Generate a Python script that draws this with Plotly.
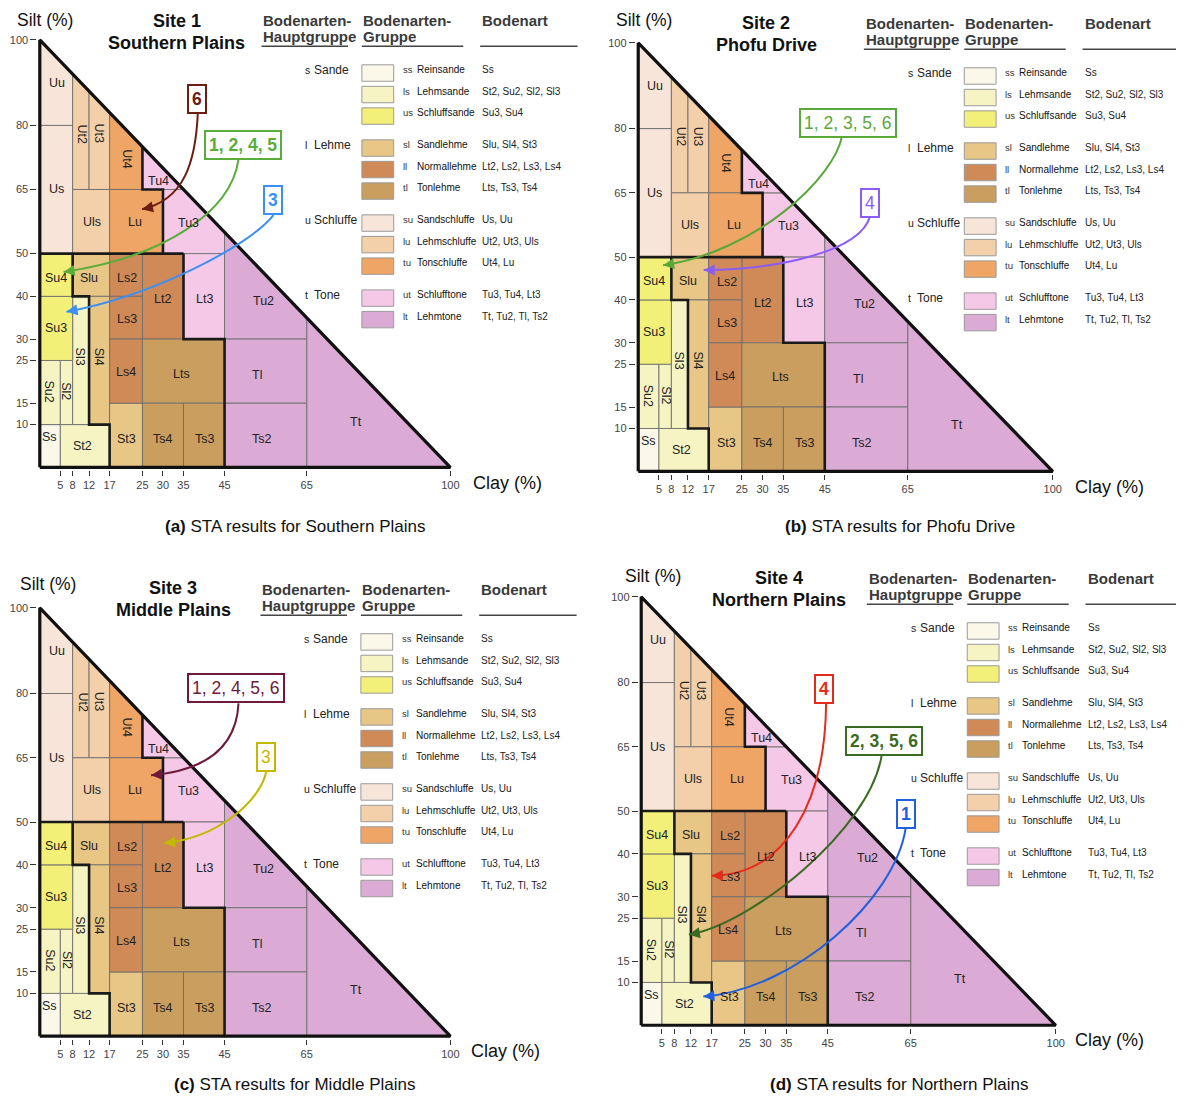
import plotly.graph_objects as go

W, H = 1176, 1090      # page adds a body margin; figure placed to match
OFF_X, OFF_Y = 8, 9
FONT = "Liberation Sans, Arial, Helvetica, sans-serif"

# ------------------------------------------------------------------ data
CLAY_TICKS = [5, 8, 12, 17, 25, 30, 35, 45, 65, 100]
SILT_TICKS = [10, 15, 25, 30, 40, 50, 65, 80, 100]

GROUP_COLORS = {
    "ss": "#fbf8ea", "ls": "#f7f4c4", "us": "#f3f07a",
    "sl": "#e8c686", "ll": "#cf8a57", "tl": "#c99e5e",
    "su": "#f8e5da", "lu": "#f4d0aa", "tu": "#eea566",
    "ut": "#f6c8e8", "lt": "#dbabd5",
}

CLASS_GROUP = {
    "Ss": "ss",
    "St2": "ls", "Su2": "ls", "Sl2": "ls", "Sl3": "ls",
    "Su3": "us", "Su4": "us",
    "Slu": "sl", "Sl4": "sl", "St3": "sl",
    "Lt2": "ll", "Ls2": "ll", "Ls3": "ll", "Ls4": "ll",
    "Lts": "tl", "Ts3": "tl", "Ts4": "tl",
    "Us": "su", "Uu": "su",
    "Ut2": "lu", "Ut3": "lu", "Uls": "lu",
    "Ut4": "tu", "Lu": "tu",
    "Tu3": "ut", "Tu4": "ut", "Lt3": "ut",
    "Tt": "lt", "Tu2": "lt", "Tl": "lt", "Ts2": "lt",
}

# polygon corners: (clay %, silt %)
CLASS_CLAY = {
    "Ss": [0, 5, 5, 0], "St2": [5, 17, 17, 5], "Su2": [0, 5, 5, 0], "Sl2": [5, 8, 8, 5],
    "Sl3": [8, 12, 12, 8], "Su3": [0, 8, 8, 0], "Su4": [0, 8, 8, 0], "Slu": [8, 17, 17, 8],
    "Sl4": [12, 17, 17, 12], "St3": [17, 25, 25, 17], "Ls4": [17, 25, 25, 17],
    "Ls3": [17, 25, 25, 17], "Ls2": [17, 25, 25, 17], "Lt2": [25, 35, 35, 25],
    "Lts": [25, 45, 45, 25], "Ts4": [25, 35, 35, 25], "Ts3": [35, 45, 45, 35],
    "Lt3": [35, 45, 45, 35], "Tu3": [30, 45, 45, 35, 30], "Tu4": [25, 35, 25],
    "Tu2": [45, 65, 65, 45], "Tl": [45, 65, 65, 45], "Ts2": [45, 65, 65, 45],
    "Tt": [65, 100, 65], "Uu": [0, 8, 8, 0], "Us": [0, 8, 8, 0], "Ut2": [8, 12, 12, 8],
    "Ut3": [12, 17, 17, 12], "Ut4": [17, 25, 25, 17], "Uls": [8, 17, 17, 8],
    "Lu": [17, 30, 30, 17],
}
CLASS_SILT = {
    "Ss": [0, 0, 10, 10], "St2": [0, 0, 10, 10], "Su2": [10, 10, 25, 25], "Sl2": [10, 10, 25, 25],
    "Sl3": [10, 10, 40, 40], "Su3": [25, 25, 40, 40], "Su4": [40, 40, 50, 50], "Slu": [40, 40, 50, 50],
    "Sl4": [10, 10, 40, 40], "St3": [0, 0, 15, 15], "Ls4": [15, 15, 30, 30],
    "Ls3": [30, 30, 40, 40], "Ls2": [40, 40, 50, 50], "Lt2": [30, 30, 50, 50],
    "Lts": [15, 15, 30, 30], "Ts4": [0, 0, 15, 15], "Ts3": [0, 0, 15, 15],
    "Lt3": [30, 30, 50, 50], "Tu3": [50, 50, 55, 65, 65], "Tu4": [65, 65, 75],
    "Tu2": [30, 30, 35, 55], "Tl": [15, 15, 30, 30], "Ts2": [0, 0, 15, 15],
    "Tt": [0, 0, 35], "Uu": [80, 80, 92, 100], "Us": [50, 50, 80, 80], "Ut2": [65, 65, 88, 92],
    "Ut3": [65, 65, 83, 88], "Ut4": [65, 65, 75, 83], "Uls": [50, 50, 65, 65],
    "Lu": [50, 50, 65, 65],
}

# label anchor (clay, silt, rotation)
CLASS_LABEL = {
    "Uu": (4.1, 90, 0), "Us": (4.0, 65, 0), "Ut2": (10.4, 78, 90), "Ut3": (14.5, 78, 90),
    "Ut4": (21.3, 72, 90), "Tu4": (29.0, 67, 0), "Uls": (12.6, 57.4, 0), "Lu": (23.2, 57.4, 0),
    "Tu3": (36.3, 57.2, 0), "Su4": (3.9, 44.4, 0), "Slu": (12.1, 44.4, 0), "Ls2": (21.3, 44.2, 0),
    "Lt2": (30.0, 39.3, 0), "Lt3": (40.2, 39.3, 0), "Tu2": (54.5, 39.0, 0), "Ls3": (21.3, 34.6, 0),
    "Su3": (3.9, 32.6, 0), "Sl3": (9.9, 25.8, 90), "Sl4": (14.5, 25.8, 90), "Ls4": (21.0, 22.3, 0),
    "Lts": (34.4, 21.9, 0), "Tl": (53.0, 21.6, 0), "Su2": (2.3, 17.7, 90), "Sl2": (6.5, 17.7, 90),
    "Tt": (77.0, 10.7, 0), "Ss": (2.4, 7.0, 0), "St2": (10.4, 4.9, 0), "St3": (21.2, 6.7, 0),
    "Ts4": (30.0, 6.7, 0), "Ts3": (40.2, 6.7, 0), "Ts2": (54.0, 6.7, 0),
}

# thick group boundaries (clay list, silt list)
FRAME_CLAY = [0, 100, 0, 0]
FRAME_SILT = [0, 0, 100, 0]
BOUNDARY_CLAY = [
    [0, 35],
    [30, 30, 25, 25],
    [35, 35, 45, 45],
    [8, 8, 12, 12, 17, 17],
]
BOUNDARY_SILT = [
    [50, 50],
    [50, 65, 65, 75],
    [50, 30, 30, 0],
    [50, 40, 40, 10, 10, 0],
]

LEGEND_HEADERS = [("Bodenarten-", "Hauptgruppe"), ("Bodenarten-", "Gruppe"), ("Bodenart", "")]
LEGEND_GROUPS = [
    ("s", "Sande", [("ss", "Reinsande", "Ss"),
                    ("ls", "Lehmsande", "St2, Su2, Sl2, Sl3"),
                    ("us", "Schluffsande", "Su3, Su4")]),
    ("l", "Lehme", [("sl", "Sandlehme", "Slu, Sl4, St3"),
                    ("ll", "Normallehme", "Lt2, Ls2, Ls3, Ls4"),
                    ("tl", "Tonlehme", "Lts, Ts3, Ts4")]),
    ("u", "Schluffe", [("su", "Sandschluffe", "Us, Uu"),
                       ("lu", "Lehmschluffe", "Ut2, Ut3, Uls"),
                       ("tu", "Tonschluffe", "Ut4, Lu")]),
    ("t", "Tone", [("ut", "Schlufftone", "Tu3, Tu4, Lt3"),
                   ("lt", "Lehmtone", "Tt, Tu2, Tl, Ts2")]),
]

# STA result callouts (positions in clay %, silt %)
ARROWS_A = [
    dict(text="6", color="#6b1d0f", bold=True, box=(38.3, 86.2), start=(38.5, 83.2),
         c1=(38.0, 71.3), c2=(35.1, 62.5), end=(24.9, 60.4)),
    dict(text="1, 2, 4, 5", color="#5aad3a", bold=True, box=(49.6, 75.5), start=(48.4, 72.0),
         c1=(46.5, 59.7), c2=(30.3, 49.2), end=(5.8, 45.7)),
    dict(text="3", color="#3d8ff5", bold=True, box=(56.9, 62.5), start=(56.9, 59.0),
         c1=(50.8, 51.5), c2=(26.6, 39.9), end=(6.5, 36.4)),
]
ARROWS_B = [
    dict(text="1, 2, 3, 5, 6", color="#5aa83a", bold=False, box=(50.6, 81.2), start=(49.2, 78.4),
         c1=(47.5, 68.6), c2=(28.3, 51.2), end=(6.0, 48.1)),
    dict(text="4", color="#8b5cf6", bold=False, box=(55.9, 62.6), start=(55.9, 59.5),
         c1=(53.5, 51.2), c2=(33.1, 47.0), end=(15.8, 47.0)),
]
ARROWS_C = [
    dict(text="1, 2, 4, 5, 6", color="#6d1a3c", bold=False, box=(47.9, 81.2), start=(48.4, 77.7),
         c1=(47.9, 67.9), c2=(41.2, 62.1), end=(27.1, 60.9)),
    dict(text="3", color="#c2b900", bold=False, box=(55.2, 65.1), start=(55.2, 61.9),
         c1=(53.8, 55.1), c2=(43.6, 46.3), end=(30.3, 45.1)),
]
ARROWS_D = [
    dict(text="4", color="#e52b1a", bold=True, box=(44.1, 78.4), start=(44.6, 75.1),
         c1=(44.4, 52.1), c2=(34.8, 35.1), end=(17.0, 34.9)),
    dict(text="2, 3, 5, 6", color="#3b6b22", bold=True, box=(58.5, 66.3), start=(58.0, 63.0),
         c1=(55.2, 45.6), c2=(26.4, 23.5), end=(11.5, 21.2)),
    dict(text="1", color="#1f5fe0", bold=True, box=(63.8, 49.3), start=(63.8, 46.0),
         c1=(61.2, 29.3), c2=(37.2, 8.4), end=(15.0, 6.7)),
]

# panel layout (pixel placement of the plot area & decorations)
PANELS = [
    dict(letter="a", site="Site 1", place="Southern Plains", X0=40, Y0=466, sx=4.13, sy=4.29,
         leg=(0, 0), title=(178, 18), silt=(45, 17), clay=(510, 482), cap=(297, 525), arrows=ARROWS_A),
    dict(letter="b", site="Site 2", place="Phofu Drive", X0=642, Y0=470, sx=4.17, sy=4.30,
         leg=(606, 3), title=(771, 20), silt=(648, 17), clay=(1116, 486), cap=(905, 525), arrows=ARROWS_B),
    dict(letter="c", site="Site 3", place="Middle Plains", X0=40, Y0=1037, sx=4.13, sy=4.30,
         leg=(-1, 571), title=(174, 587), silt=(48, 583), clay=(508, 1052), cap=(297, 1085), arrows=ARROWS_C),
    dict(letter="d", site="Site 4", place="Northern Plains", X0=645, Y0=1026, sx=4.17, sy=4.30,
         leg=(609, 560), title=(784, 577), silt=(657, 575), clay=(1116, 1041), cap=(905, 1085), arrows=ARROWS_D),
]

# ------------------------------------------------------------------ figure
fig = go.Figure()
layout = dict(width=W, height=H, margin=dict(l=0, r=0, t=0, b=0),
              paper_bgcolor="white", plot_bgcolor="rgba(0,0,0,0)",
              font=dict(family=FONT, color="#111"), showlegend=False)
annotations = []
shapes = []
PAD = 0.6


def px(x):
    return (x - OFF_X) / W


def py(y):
    return 1 - (y - OFF_Y) / H


def ptext(x, y, text, size, color="#111", xanchor="center"):
    annotations.append(dict(x=px(x), y=py(y), xref="paper", yref="paper", text=text,
                            xanchor=xanchor, yanchor="middle", showarrow=False,
                            font=dict(size=size, color=color, family=FONT)))


for i, P in enumerate(PANELS):
    n = "" if i == 0 else str(i + 1)
    xr, yr = "x" + n, "y" + n
    xd = [px(P["X0"] - PAD * P["sx"]), px(P["X0"] + (100 + PAD) * P["sx"])]
    yd = [py(P["Y0"] + PAD * P["sy"]), py(P["Y0"] - (100 + PAD) * P["sy"])]
    layout["xaxis" + n] = dict(domain=xd, range=[-PAD, 100 + PAD], anchor=yr,
                               tickvals=CLAY_TICKS, ticktext=[str(v) for v in CLAY_TICKS],
                               ticks="outside", ticklen=5, tickcolor="#333", tickwidth=1,
                               tickfont=dict(size=11, color="#444", family=FONT),
                               showgrid=False, zeroline=False, showline=False, fixedrange=True)
    layout["yaxis" + n] = dict(domain=yd, range=[-PAD, 100 + PAD], anchor=xr,
                               tickvals=SILT_TICKS, ticktext=[str(v) for v in SILT_TICKS],
                               ticks="outside", ticklen=6, tickcolor="#333", tickwidth=1,
                               tickfont=dict(size=11, color="#444", family=FONT),
                               showgrid=False, zeroline=False, showline=False, fixedrange=True)

    # class polygons
    for cls, grp in CLASS_GROUP.items():
        cx = CLASS_CLAY[cls] + [CLASS_CLAY[cls][0]]
        cy = CLASS_SILT[cls] + [CLASS_SILT[cls][0]]
        fig.add_trace(go.Scatter(x=cx, y=cy, xaxis=xr, yaxis=yr, mode="lines", fill="toself",
                                 fillcolor=GROUP_COLORS[grp], line=dict(color="#6e6e6e", width=0.9),
                                 hoverinfo="skip"))
    # group boundaries
    for bx, by in zip(BOUNDARY_CLAY, BOUNDARY_SILT):
        fig.add_trace(go.Scatter(x=bx, y=by, xaxis=xr, yaxis=yr, mode="lines",
                                 line=dict(color="#1a1a1a", width=2.6), hoverinfo="skip"))
    fig.add_trace(go.Scatter(x=FRAME_CLAY, y=FRAME_SILT, xaxis=xr, yaxis=yr, mode="lines",
                             line=dict(color="#111", width=3.2), hoverinfo="skip"))

    # class labels
    for cls, (lx, ly, ang) in CLASS_LABEL.items():
        annotations.append(dict(x=lx, y=ly, xref=xr, yref=yr, text=cls, showarrow=False,
                                xanchor="center", yanchor="middle",
                                textangle=ang, font=dict(size=12.5, color="#222", family=FONT)))

    # callout arrows
    for A in P["arrows"]:
        (x0, y0), (a1, b1), (a2, b2), (x1, y1) = A["start"], A["c1"], A["c2"], A["end"]
        shapes.append(dict(type="path", xref=xr, yref=yr,
                           path=f"M {x0},{y0} C {a1},{b1} {a2},{b2} {x1},{y1}",
                           line=dict(color=A["color"], width=2)))
        dx, dy = (a2 - x1) * P["sx"], (b2 - y1) * P["sy"]
        L = (dx * dx + dy * dy) ** 0.5
        annotations.append(dict(x=x1, y=y1, xref=xr, yref=yr, axref=xr, ayref=yr,
                                ax=x1 + dx / L * 10 / P["sx"], ay=y1 + dy / L * 10 / P["sy"],
                                text="", showarrow=True, arrowhead=2, arrowsize=1.1,
                                arrowwidth=2, arrowcolor=A["color"], standoff=0))
        t = f"<b>{A['text']}</b>" if A["bold"] else A["text"]
        annotations.append(dict(x=A["box"][0], y=A["box"][1], xref=xr, yref=yr, text=t,
                                xanchor="center", yanchor="middle",
                                showarrow=False, bgcolor="white", bordercolor=A["color"],
                                borderwidth=2, borderpad=3,
                                font=dict(size=17.5, color=A["color"], family=FONT)))

    # titles / axis names / caption
    tx, ty = P["title"]
    ptext(tx, ty, f"<b>{P['site']}</b>", 18)
    ptext(tx, ty + 22, f"<b>{P['place']}</b>", 18)
    ptext(P["silt"][0], P["silt"][1], "Silt (%)", 17.5)
    ptext(P["clay"][0], P["clay"][1], "Clay (%)", 18)
    ptext(P["cap"][0], P["cap"][1], f"<b>({P['letter']})</b> STA results for {P['place']}", 17)

    # legend table
    ox, oy = P["leg"]
    hx = [263, 363, 483]
    ul = [(263, 350), (364, 466), (483, 581)]
    for (h1, h2), hxx, (u0, u1) in zip(LEGEND_HEADERS, hx, ul):
        ptext(hxx + ox, 18 + oy, f"<b>{h1}</b>", 15, "#3a3a3a", "left")
        if h2:
            ptext(hxx + ox, 34 + oy, f"<b>{h2}</b>", 15, "#3a3a3a", "left")
        shapes.append(dict(type="line", xref="paper", yref="paper", x0=px(u0 + ox), x1=px(u1 + ox),
                           y0=py(43.5 + oy), y1=py(43.5 + oy), line=dict(color="#444", width=1.5)))
    row_y = 67
    for gab, gname, rows in LEGEND_GROUPS:
        ptext(305 + ox, row_y + oy, gab, 10.5, "#222", "left")
        ptext(314 + ox, row_y + oy, gname, 12, "#222", "left")
        for ab, name, members in rows:
            yy = row_y + oy
            shapes.append(dict(type="rect", xref="paper", yref="paper", x0=px(364 + ox), x1=px(396 + ox),
                               y0=py(yy + 11.5), y1=py(yy - 5), fillcolor=GROUP_COLORS[ab],
                               line=dict(color="#9a9a9a", width=1)))
            ptext(403 + ox, yy, ab, 9.5, "#333", "left")
            ptext(417 + ox, yy, name, 10, "#111", "left")
            ptext(483 + ox, yy, members, 10, "#222", "left")
            row_y += 21.6
        row_y += 10.5

layout["annotations"] = annotations
layout["shapes"] = shapes
fig.update_layout(**layout)
fig.write_html("out.html")
